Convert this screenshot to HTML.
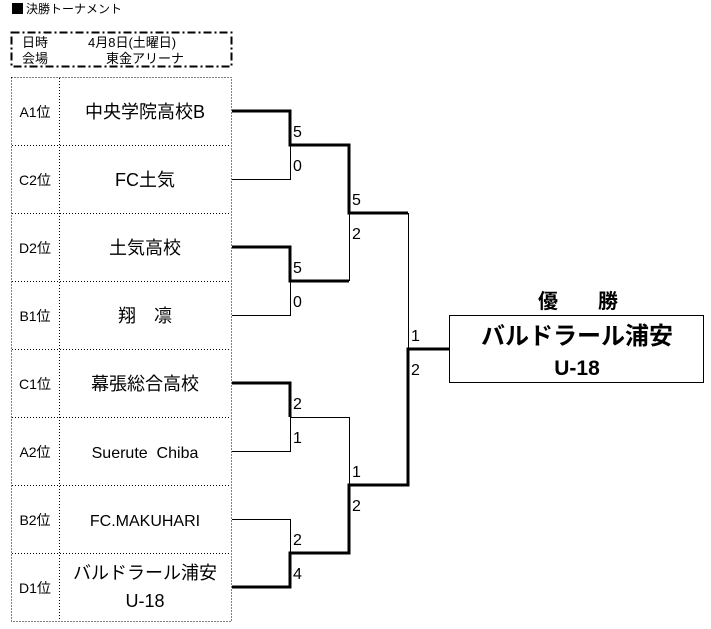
<!DOCTYPE html>
<html><head><meta charset="utf-8"><style>
html,body{margin:0;padding:0;background:#fff;}
svg{display:block;font-family:"Liberation Sans","Noto Sans CJK JP",sans-serif;}
</style></head><body>
<svg width="711" height="629" viewBox="0 0 711 629" xmlns="http://www.w3.org/2000/svg">
<rect x="12" y="3" width="11" height="11" fill="#000"/>
<text x="26" y="13" font-size="12">決勝トーナメント</text>
<rect x="11.5" y="32.5" width="220" height="34" fill="none" stroke="#000" stroke-width="2" stroke-dasharray="8,3,2,3"/>
<text x="22" y="47" font-size="13">日時</text>
<text x="22" y="63" font-size="13">会場</text>
<text x="88" y="47" font-size="13">4月8日(土曜日)</text>
<text x="106" y="63" font-size="13">東金アリーナ</text>
<g fill="none" stroke="#000" stroke-width="1" stroke-dasharray="1,2">
<rect x="11.5" y="77.5" width="220" height="544"/>
<line x1="59.5" y1="78" x2="59.5" y2="621"/>
<line x1="12" y1="145.5" x2="231" y2="145.5"/>
<line x1="12" y1="213.5" x2="231" y2="213.5"/>
<line x1="12" y1="281.5" x2="231" y2="281.5"/>
<line x1="12" y1="349.5" x2="231" y2="349.5"/>
<line x1="12" y1="417.5" x2="231" y2="417.5"/>
<line x1="12" y1="485.5" x2="231" y2="485.5"/>
<line x1="12" y1="553.5" x2="231" y2="553.5"/>
</g>
<g font-size="14" text-anchor="middle">
<text x="35" y="117">A1位</text><text x="35" y="185">C2位</text>
<text x="35" y="253">D2位</text><text x="35" y="321">B1位</text>
<text x="35" y="389">C1位</text><text x="35" y="457">A2位</text>
<text x="35" y="525">B2位</text><text x="35" y="593">D1位</text>
</g>
<g font-size="18" text-anchor="middle">
<text x="145" y="118">中央学院高校B</text>
<text x="145" y="186">FC土気</text>
<text x="145" y="254">土気高校</text>
<text x="145" y="322" xml:space="preserve">翔　凛</text>
<text x="145" y="390">幕張総合高校</text>
<text x="145" y="458" font-size="16" xml:space="preserve">Suerute  Chiba</text>
<text x="145" y="526" font-size="16">FC.MAKUHARI</text>
<text x="145" y="579">バルドラール浦安</text>
<text x="145" y="607">U-18</text>
</g>
<g fill="none" stroke="#000" stroke-width="1">
<polyline points="232,179.5 290.5,179.5 290.5,145"/>
<polyline points="232,315.5 290.5,315.5 290.5,281"/>
<polyline points="232,451.5 290.5,451.5 290.5,417.5 349.5,417.5 349.5,485"/>
<polyline points="232,519.5 290.5,519.5 290.5,553"/>
<polyline points="349.5,281 349.5,213"/>
<polyline points="408.5,213 408.5,349"/>
</g>
<g fill="none" stroke="#000" stroke-width="3">
<polyline points="232,111 290,111 290,145 349,145 349,213 408,213"/>
<polyline points="232,247 290,247 290,281 349,281"/>
<polyline points="232,383 290,383 290,417"/>
<polyline points="232,587 290,587 290,553 349,553 349,485 408,485 408,349 450,349"/>
</g>
<g font-size="16">
<text x="293" y="137">5</text><text x="293" y="171">0</text>
<text x="293" y="273">5</text><text x="293" y="307">0</text>
<text x="293" y="409">2</text><text x="293" y="443">1</text>
<text x="293" y="545">2</text><text x="293" y="579">4</text>
<text x="352" y="205">5</text><text x="352" y="239">2</text>
<text x="352" y="477">1</text><text x="352" y="511">2</text>
<text x="411" y="341">1</text><text x="411" y="375">2</text>
</g>
<text x="578" y="308" font-size="20" font-weight="bold" text-anchor="middle" xml:space="preserve">優　　勝</text>
<rect x="449.5" y="315.5" width="254" height="67" fill="none" stroke="#000" stroke-width="1"/>
<text x="577" y="344" font-size="24" font-weight="bold" text-anchor="middle">バルドラール浦安</text>
<text x="577" y="375" font-size="21" font-weight="bold" text-anchor="middle">U-18</text>
</svg>
</body></html>
